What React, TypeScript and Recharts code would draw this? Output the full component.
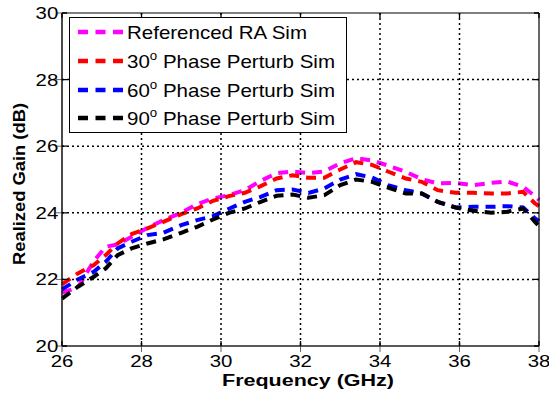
import React from "react";
import { LineChart, Line, XAxis, YAxis } from "recharts";

const freqs = [26, 26.4, 26.8, 27.1, 27.4, 27.75, 28.15, 28.55, 29.0, 29.4, 29.8, 30.2, 30.6, 31.0, 31.4, 31.8, 32.2, 32.6, 33.0, 33.4, 33.8, 34.2, 34.65, 35.05, 35.45, 35.9, 36.35, 36.8, 37.2, 37.6, 37.9, 38];
const refSim = [21.6, 21.76, 22.55, 22.98, 23.05, 23.28, 23.55, 23.78, 24.0, 24.26, 24.43, 24.53, 24.68, 24.96, 25.19, 25.24, 25.19, 25.24, 25.49, 25.64, 25.57, 25.42, 25.23, 25.01, 24.88, 24.9, 24.83, 24.9, 24.94, 24.78, 24.5, 24.38];
const phase30 = [21.85, 22.18, 22.43, 22.73, 23.08, 23.36, 23.53, 23.73, 23.96, 24.13, 24.36, 24.5, 24.6, 24.8, 25.03, 25.13, 25.05, 25.05, 25.3, 25.52, 25.44, 25.24, 25.03, 24.93, 24.68, 24.6, 24.6, 24.58, 24.58, 24.63, 24.28, 24.2];
const phase60 = [21.7, 22.0, 22.23, 22.53, 22.93, 23.13, 23.33, 23.4, 23.63, 23.78, 23.9, 24.12, 24.33, 24.48, 24.68, 24.7, 24.6, 24.73, 25.0, 25.16, 25.06, 24.83, 24.68, 24.58, 24.33, 24.16, 24.18, 24.18, 24.2, 24.16, 23.83, 23.75];
const phase90 = [21.42, 21.78, 22.08, 22.33, 22.73, 22.93, 23.08, 23.2, 23.4, 23.58, 23.8, 24.0, 24.13, 24.33, 24.51, 24.55, 24.45, 24.53, 24.83, 25.0, 24.93, 24.76, 24.58, 24.58, 24.33, 24.16, 24.06, 24.0, 24.03, 24.13, 23.73, 23.6];

const xTicks = [26, 28, 30, 32, 34, 36, 38];
const yTicks = [20, 22, 24, 26, 28, 30];

const series = [
  { key: "ref", values: refSim, color: "#ff00ff", prefix: "Referenced RA Sim", sup: "", suffix: "" },
  { key: "p30", values: phase30, color: "#ff0000", prefix: "30", sup: "o", suffix: " Phase Perturb Sim" },
  { key: "p60", values: phase60, color: "#0000ff", prefix: "60", sup: "o", suffix: " Phase Perturb Sim" },
  { key: "p90", values: phase90, color: "#000000", prefix: "90", sup: "o", suffix: " Phase Perturb Sim" },
];

const data = freqs.map((f, i) => {
  const row: Record<string, number> = { f };
  series.forEach((s) => (row[s.key] = s.values[i]));
  return row;
});

const FONT = "'Liberation Sans', Arial, Helvetica, sans-serif";
const PLOT_TOP = 13;
const PLOT_BOTTOM = 346;
const PLOT_LEFT = 62;
const PLOT_RIGHT = 539;
const TICK_LEN = 5;
const GRID_COLOR = "#000";
const GRID_DASH = "2 3";

const XTick = (props: any) => {
  const { x, payload } = props;
  const isEdge = payload.value === xTicks[0] || payload.value === xTicks[xTicks.length - 1];
  return (
    <g>
      {isEdge ? (
        <path d={`M${x},${PLOT_TOP}L${x},${PLOT_BOTTOM}`} stroke="#000" strokeWidth={1.2} fill="none" />
      ) : (
        <path d={`M${x},${PLOT_TOP}L${x},${PLOT_BOTTOM}`} stroke={GRID_COLOR} strokeWidth={1.5} strokeDasharray={GRID_DASH} fill="none" />
      )}
      <path d={`M${x},${PLOT_BOTTOM}L${x},${PLOT_BOTTOM - TICK_LEN}M${x},${PLOT_TOP}L${x},${PLOT_TOP + TICK_LEN}`} stroke="#000" strokeWidth={1.3} fill="none" />
      <text x={x} y={367} textAnchor="middle" fontSize={17} fontFamily={FONT} fill="#000" textLength={22.7} lengthAdjust="spacingAndGlyphs">
        {payload.value}
      </text>
    </g>
  );
};

const YTick = (props: any) => {
  const { y, payload } = props;
  const isEdge = payload.value === yTicks[0] || payload.value === yTicks[yTicks.length - 1];
  return (
    <g>
      {isEdge ? (
        <path d={`M${PLOT_LEFT},${y}L${PLOT_RIGHT},${y}`} stroke="#000" strokeWidth={1.2} fill="none" />
      ) : (
        <path d={`M${PLOT_LEFT},${y}L${PLOT_RIGHT},${y}`} stroke={GRID_COLOR} strokeWidth={1.5} strokeDasharray={GRID_DASH} fill="none" />
      )}
      <path d={`M${PLOT_LEFT},${y}L${PLOT_LEFT + TICK_LEN},${y}M${PLOT_RIGHT},${y}L${PLOT_RIGHT - TICK_LEN},${y}`} stroke="#000" strokeWidth={1.3} fill="none" />
      <text x={58.3} y={y + 6} textAnchor="end" fontSize={17} fontFamily={FONT} fill="#000" textLength={22.7} lengthAdjust="spacingAndGlyphs">
        {payload.value}
      </text>
    </g>
  );
};

const LegendBox = () => {
  const rowY = [15, 44, 73, 101];
  return (
    <svg width={278} height={116} style={{ display: "block" }}>
      <rect x={0.5} y={0.5} width={277} height={115} fill="#fff" stroke="#000" strokeWidth={1} />
      {series.map((s, i) => (
        <g key={s.key}>
          <line x1={9} x2={54} y1={rowY[i]} y2={rowY[i]} stroke={s.color} strokeWidth={4.5} strokeDasharray="10 7.5" />
          <text
            x={58}
            y={rowY[i] + 6.5}
            fontSize={18.5}
            fontFamily={FONT}
            fill="#000"
            textLength={i === 0 ? 180 : 208}
            lengthAdjust="spacingAndGlyphs"
          >
            {s.prefix}
            {s.sup ? (
              <tspan fontSize={12} dy={-8}>
                {s.sup}
              </tspan>
            ) : null}
            {s.suffix ? <tspan dy={s.sup ? 8 : 0}>{s.suffix}</tspan> : null}
          </text>
        </g>
      ))}
    </svg>
  );
};

export default function App() {
  return (
    <div style={{ position: "absolute", left: 0, top: 0, width: 549, height: 393, background: "#fff" }}>
      <LineChart width={549} height={393} data={data} margin={{ top: PLOT_TOP, right: 549 - PLOT_RIGHT, bottom: 0, left: 0 }}>
        <XAxis
          dataKey="f"
          type="number"
          domain={[26, 38]}
          ticks={xTicks}
          height={393 - PLOT_BOTTOM}
          tick={<XTick />}
          interval={0}
          label={{
            content: () => (
              <text x={308} y={386} textAnchor="middle" fontSize={16} fontWeight="bold" fontFamily={FONT} fill="#000" textLength={172} lengthAdjust="spacingAndGlyphs">
                Frequency (GHz)
              </text>
            ),
          }}
        />
        <YAxis
          type="number"
          domain={[20, 30]}
          ticks={yTicks}
          width={PLOT_LEFT}
          tick={<YTick />}
          interval={0}
          label={{
            content: () => (
              <text
                x={25}
                y={184}
                transform="rotate(-90, 25, 184)"
                textAnchor="middle"
                fontSize={16.5}
                fontWeight="bold"
                fontFamily={FONT}
                fill="#000"
                textLength={162}
                lengthAdjust="spacingAndGlyphs"
              >
                Realized Gain (dB)
              </text>
            ),
          }}
        />
        {series.map((s) => (
          <Line
            key={s.key}
            dataKey={s.key}
            type="linear"
            stroke={s.color}
            strokeWidth={4}
            strokeDasharray="10 7"
            dot={false}
            activeDot={false}
            isAnimationActive={false}
          />
        ))}
      </LineChart>
      <div style={{ position: "absolute", left: 69, top: 17 }}>
        <LegendBox />
      </div>
    </div>
  );
}
